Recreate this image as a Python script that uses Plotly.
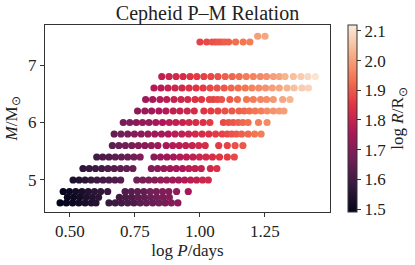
import plotly.graph_objects as go

# ---- data: (mass, logP list, logR list) per row ----
m75_p = [1.222, 1.250]
m75_r = [2.00, 2.01]

m74_p = [1.000, 1.026, 1.047, 1.060, 1.072, 1.084, 1.096, 1.110, 1.137, 1.166, 1.192]
m74_r = [1.87, 1.88, 1.89, 1.89, 1.90, 1.90, 1.91, 1.91, 1.93, 1.94, 1.95]

m68_p = [0.853, 0.881, 0.908, 0.935, 0.962, 0.988, 1.015, 1.042, 1.069, 1.097, 1.124, 1.151,
         1.178, 1.205, 1.232, 1.256, 1.282, 1.305, 1.327, 1.359, 1.388, 1.415, 1.444]
m68_r = [1.79, 1.81, 1.82, 1.83, 1.85, 1.86, 1.87, 1.88, 1.89, 1.91, 1.92, 1.93,
         1.95, 1.96, 1.97, 1.98, 2.00, 2.01, 2.03, 2.05, 2.07, 2.09, 2.11]

m66_p = [0.823, 0.850, 0.877, 0.904, 0.931, 0.958, 0.985, 1.012, 1.039, 1.066, 1.093, 1.120,
         1.147, 1.174, 1.200, 1.226, 1.252, 1.278, 1.305, 1.335, 1.362, 1.392, 1.417]
m66_r = [1.77, 1.78, 1.80, 1.81, 1.82, 1.84, 1.85, 1.86, 1.88, 1.89, 1.90, 1.92,
         1.93, 1.94, 1.96, 1.97, 1.98, 2.00, 2.01, 2.03, 2.05, 2.07, 2.08]

m64_p = [0.791, 0.818, 0.846, 0.872, 0.900, 0.927, 0.953, 0.981, 1.006, 1.036, 1.051, 1.067,
         1.083, 1.115, 1.144, 1.179, 1.205, 1.233, 1.256, 1.282, 1.318, 1.346]
m64_r = [1.74, 1.75, 1.77, 1.78, 1.80, 1.81, 1.82, 1.84, 1.85, 1.87, 1.87, 1.88,
         1.89, 1.90, 1.92, 1.94, 1.95, 1.96, 1.97, 1.99, 2.01, 2.03]

m62_p = [0.760, 0.788, 0.814, 0.842, 0.869, 0.897, 0.923, 0.951, 0.978, 1.015, 1.042, 1.069,
         1.096, 1.123, 1.150, 1.170, 1.190, 1.212, 1.235, 1.258, 1.282, 1.305, 1.323]
m62_r = [1.71, 1.73, 1.74, 1.76, 1.77, 1.79, 1.80, 1.81, 1.83, 1.85, 1.86, 1.87,
         1.89, 1.90, 1.91, 1.92, 1.93, 1.94, 1.95, 1.97, 1.98, 1.99, 2.00]

m60_p = [0.705, 0.730, 0.755, 0.779, 0.804, 0.830, 0.856, 0.882, 0.907, 0.933, 0.958, 0.984,
         1.012, 1.038, 1.090, 1.110, 1.128, 1.147, 1.165, 1.185, 1.225, 1.258]
m60_r = [1.68, 1.69, 1.71, 1.72, 1.73, 1.75, 1.76, 1.78, 1.79, 1.80, 1.82, 1.83,
         1.84, 1.86, 1.88, 1.89, 1.90, 1.91, 1.92, 1.93, 1.95, 1.97]

m58_p = [0.670, 0.696, 0.722, 0.748, 0.774, 0.800, 0.826, 0.852, 0.878, 0.904, 0.930, 0.956,
         0.982, 1.008, 1.034, 1.060, 1.085, 1.105, 1.122, 1.140, 1.160, 1.185, 1.210, 1.235]
m58_r = [1.65, 1.67, 1.68, 1.70, 1.71, 1.72, 1.74, 1.75, 1.76, 1.78, 1.79, 1.80,
         1.82, 1.83, 1.84, 1.86, 1.87, 1.88, 1.89, 1.90, 1.91, 1.92, 1.94, 1.95]

m56_p = [0.663, 0.688, 0.713, 0.738, 0.763, 0.788, 0.813, 0.838, 0.870, 0.895, 0.920, 0.945,
         0.970, 0.995, 1.020, 1.072, 1.105, 1.135, 1.165]
m56_r = [1.64, 1.66, 1.67, 1.68, 1.70, 1.71, 1.72, 1.74, 1.75, 1.77, 1.78, 1.79,
         1.80, 1.82, 1.83, 1.86, 1.87, 1.89, 1.90]

m54_p = [0.603, 0.626, 0.650, 0.674, 0.698, 0.722, 0.746, 0.770, 0.823, 0.848, 0.873, 0.898,
         0.923, 0.948, 0.973, 0.998, 1.023, 1.048, 1.075, 1.105, 1.132]
m54_r = [1.60, 1.61, 1.62, 1.64, 1.65, 1.66, 1.67, 1.69, 1.71, 1.73, 1.74, 1.75,
         1.77, 1.78, 1.79, 1.81, 1.82, 1.83, 1.85, 1.86, 1.88]

m52_p = [0.550, 0.574, 0.598, 0.622, 0.646, 0.670, 0.694, 0.718, 0.742, 0.813, 0.837, 0.861,
         0.885, 0.909, 0.933, 0.957, 0.981, 1.005, 1.040, 1.065]
m52_r = [1.57, 1.58, 1.59, 1.60, 1.62, 1.63, 1.64, 1.65, 1.66, 1.70, 1.71, 1.73,
         1.74, 1.75, 1.76, 1.78, 1.79, 1.80, 1.82, 1.84]

m50_p = [0.512, 0.535, 0.558, 0.581, 0.604, 0.627, 0.650, 0.673, 0.695, 0.757, 0.780, 0.803,
         0.826, 0.849, 0.872, 0.895, 0.918, 0.941, 0.964, 0.987, 1.010, 1.032]
m50_r = [1.54, 1.55, 1.56, 1.58, 1.59, 1.60, 1.61, 1.62, 1.63, 1.67, 1.68, 1.69,
         1.70, 1.72, 1.73, 1.74, 1.75, 1.77, 1.78, 1.79, 1.81, 1.82]

m48_p = [0.474, 0.498, 0.522, 0.546, 0.570, 0.594, 0.618, 0.645, 0.712, 0.736, 0.760, 0.784,
         0.808, 0.832, 0.856, 0.880, 0.910, 0.955]
m48_r = [1.50, 1.51, 1.52, 1.53, 1.55, 1.56, 1.57, 1.58, 1.62, 1.63, 1.64, 1.65,
         1.67, 1.68, 1.69, 1.70, 1.72, 1.75]

m47_p = [0.490, 0.514, 0.538, 0.562, 0.586, 0.610, 0.690, 0.714, 0.738, 0.762, 0.786, 0.810,
         0.834, 0.858, 0.882]
m47_r = [1.50, 1.51, 1.52, 1.54, 1.55, 1.56, 1.60, 1.61, 1.62, 1.64, 1.65, 1.66,
         1.67, 1.68, 1.70]

m46_p = [0.462, 0.486, 0.510, 0.534, 0.558, 0.582, 0.600, 0.650, 0.674, 0.698, 0.722, 0.746,
         0.770, 0.794, 0.818, 0.842, 0.866, 0.890, 0.915]
m46_r = [1.49, 1.50, 1.51, 1.52, 1.53, 1.54, 1.55, 1.58, 1.59, 1.60, 1.61, 1.62,
         1.64, 1.65, 1.66, 1.67, 1.68, 1.70, 1.71]

rows = [
    (4.6, m46_p, m46_r), (4.7, m47_p, m47_r), (4.8, m48_p, m48_r),
    (5.0, m50_p, m50_r), (5.2, m52_p, m52_r), (5.4, m54_p, m54_r),
    (5.6, m56_p, m56_r), (5.8, m58_p, m58_r), (6.0, m60_p, m60_r),
    (6.2, m62_p, m62_r), (6.4, m64_p, m64_r), (6.6, m66_p, m66_r),
    (6.8, m68_p, m68_r), (7.4, m74_p, m74_r), (7.5, m75_p, m75_r),
]

xs, ys, cs = [], [], []
for m, ps, rs in rows:
    xs += ps
    ys += [m] * len(ps)
    cs += rs

rocket = [
    [0.0, "#03051a"], [1/7, "#35193e"], [2/7, "#701f57"], [3/7, "#ad1759"],
    [4/7, "#e13342"], [5/7, "#f37651"], [6/7, "#f6b48f"], [1.0, "#faebdd"],
]

FONT = "Liberation Serif"
AX = "#333333"
TXT = "#222222"

fig = go.Figure(go.Scatter(
    x=xs, y=ys, mode="markers",
    marker=dict(
        size=7.2, color=cs, colorscale=rocket, cmin=1.49, cmax=2.12,
        line=dict(width=0),
        colorbar=dict(
            x=1.063, xanchor="left", xpad=0, ypad=0,
            y=0.5, yanchor="middle", len=1.0, lenmode="fraction",
            thickness=9, outlinewidth=1, outlinecolor=AX,
            tickvals=[1.5, 1.6, 1.7, 1.8, 1.9, 2.0, 2.1],
            ticktext=["1.5", "1.6", "1.7", "1.8", "1.9", "2.0", "2.1"],
            ticks="outside", ticklen=4, tickcolor=AX, tickwidth=1,
            tickfont=dict(family=FONT, size=17, color=TXT),
            title=dict(text="log <i>R</i>/R<sub>⊙</sub>", side="right",
                       font=dict(family=FONT, size=17, color=TXT)),
        ),
    ),
    hoverinfo="skip",
))

fig.update_layout(
    width=415, height=265,
    margin=dict(l=45, r=85, t=25, b=53, autoexpand=False),
    paper_bgcolor="white", plot_bgcolor="white",
    showlegend=False,
    title=dict(text="Cepheid P–M Relation", x=0.5, xref="container", xanchor="center",
               y=0.95, yref="container", yanchor="middle",
               font=dict(family=FONT, size=20, color=TXT)),
    font=dict(family=FONT, color=TXT),
)
fig.update_xaxes(
    range=[0.404, 1.5], showgrid=False, zeroline=False, automargin=False,
    tickvals=[0.5, 0.75, 1.0, 1.25], ticktext=["0.50", "0.75", "1.00", "1.25"],
    ticks="outside", ticklen=4, tickcolor=AX, tickwidth=1,
    showline=True, linecolor=AX, linewidth=1, mirror=True,
    tickfont=dict(family=FONT, size=17, color=TXT),
    title=dict(text="log <i>P</i>/days", font=dict(family=FONT, size=17, color=TXT), standoff=3),
)
fig.update_yaxes(
    range=[4.443, 7.696], showgrid=False, zeroline=False, automargin=False,
    tickvals=[5, 6, 7], ticktext=["5", "6", "7"],
    ticks="outside", ticklen=4, tickcolor=AX, tickwidth=1,
    showline=True, linecolor=AX, linewidth=1, mirror=True,
    tickfont=dict(family=FONT, size=17, color=TXT),
    title=dict(text="<i>M</i>/M<sub>⊙</sub>", font=dict(family=FONT, size=17, color=TXT), standoff=6),
)

fig.write_html("out.html", config={"displayModeBar": False, "staticPlot": True},
               post_script="document.body.style.margin='0';")
